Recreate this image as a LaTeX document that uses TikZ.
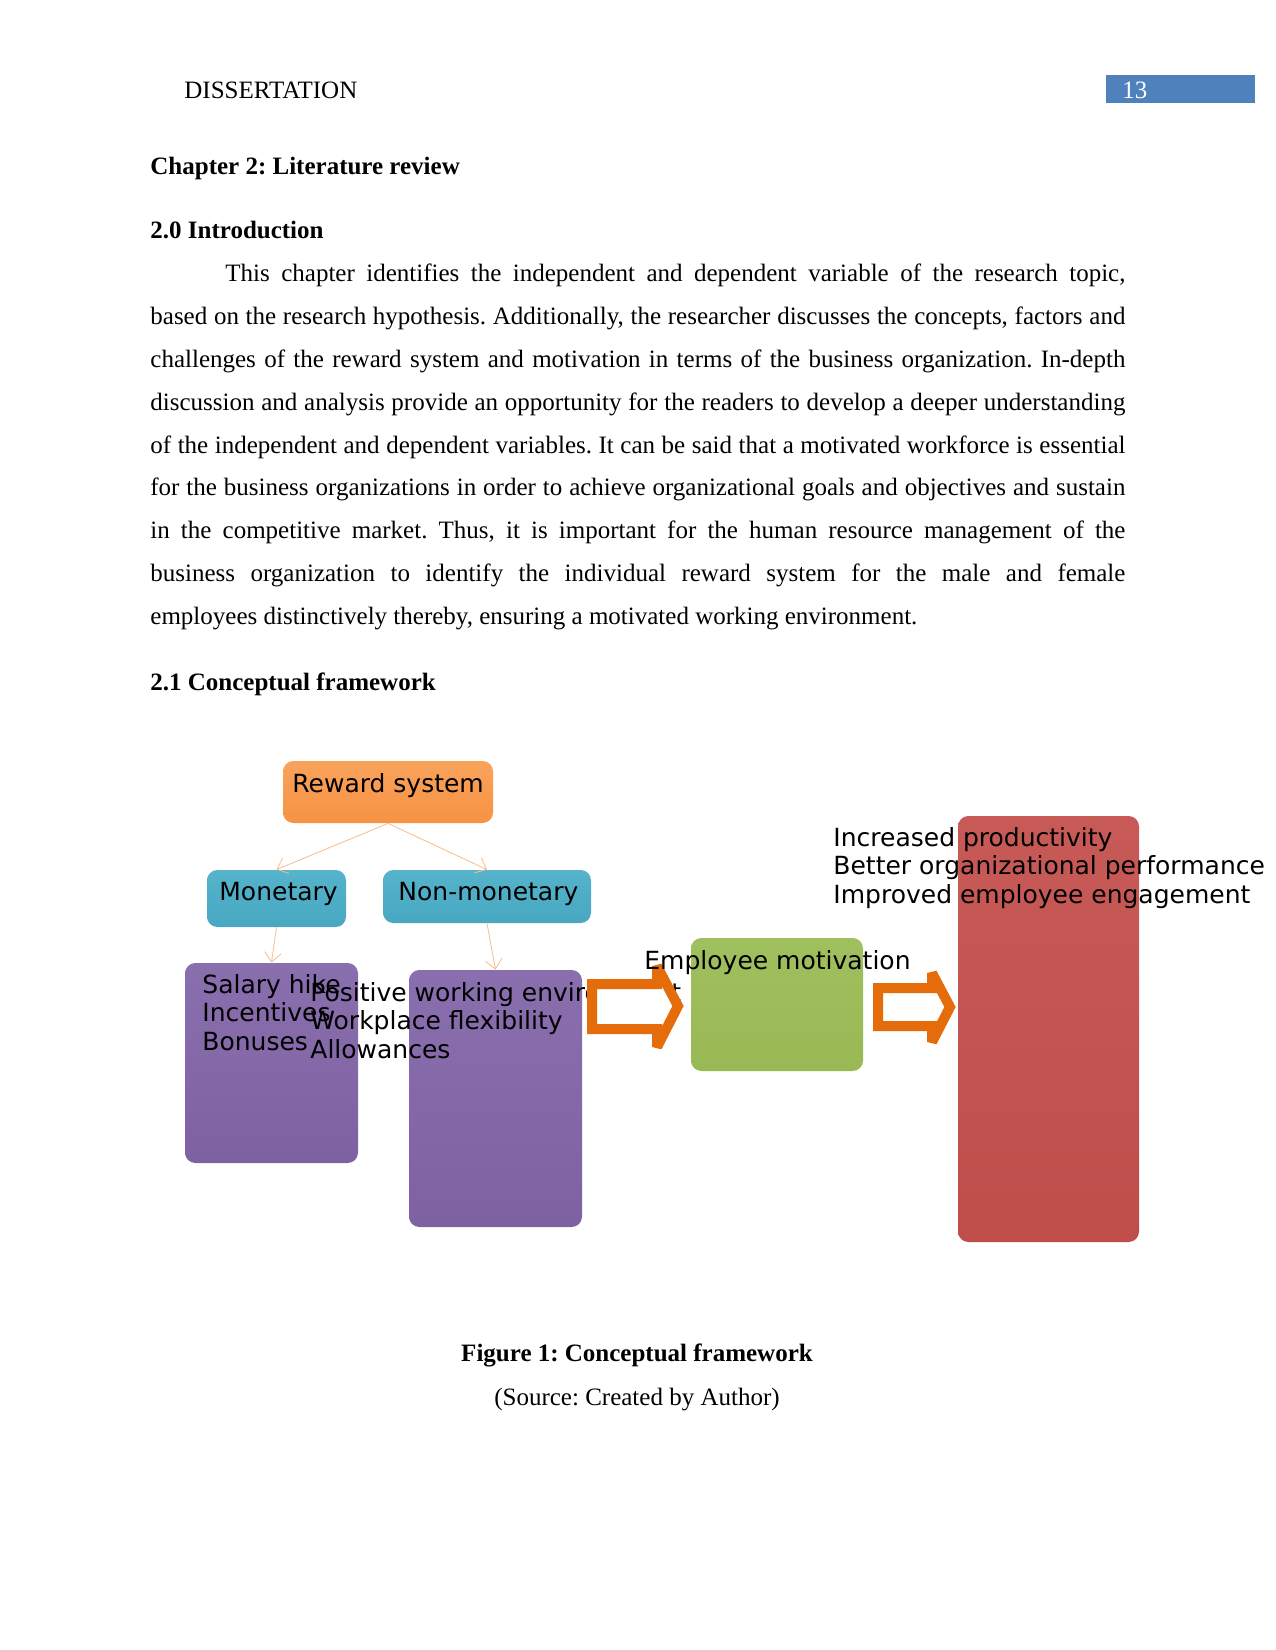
\documentclass[tikz,border=0pt]{standalone}
\usepackage{fontspec}
\setmainfont{Liberation Serif}
\newfontfamily\djv{DejaVu Sans}
\usetikzlibrary{arrows.meta}
\definecolor{hdrblue}{HTML}{4F81BD}
\definecolor{orgtop}{HTML}{F9A25C}
\definecolor{orgbot}{HTML}{F79343}
\definecolor{blutop}{HTML}{55B3CB}
\definecolor{blubot}{HTML}{48A8C2}
\definecolor{purtop}{HTML}{8A6FAE}
\definecolor{purbot}{HTML}{7E61A0}
\definecolor{grntop}{HTML}{A0BF5E}
\definecolor{grnbot}{HTML}{99B955}
\definecolor{redtop}{HTML}{C75A57}
\definecolor{redbot}{HTML}{BF4E4B}
\definecolor{arrorange}{HTML}{E46C0A}
\definecolor{linkorange}{HTML}{F8BE8E}
\begin{document}
\frenchspacing
\begin{tikzpicture}[x=0.48pt,y=-0.48pt,
  txt/.style={inner sep=0pt, anchor=base west, font=\fontsize{12pt}{14pt}\selectfont},
  bold/.style={txt, font=\fontsize{12pt}{14pt}\selectfont\bfseries},
  dtxt/.style={inner sep=0pt, anchor=base west, font=\djv\fontsize{12pt}{13.8pt}\selectfont},
  box/.style={rectangle, rounded corners=5pt, inner sep=0pt, draw=none},
  link/.style={draw=linkorange, line width=0.4pt, -{Straight Barb[length=4.5pt,width=8pt]}},
  blockarrow/.style={draw=arrorange, line width=4.8pt, fill=white, line join=miter, miter limit=3}
]
\useasboundingbox[fill=white] (0,0) rectangle (1275,1650);

% header
\node[txt] (hdr) at (184,99) {DISSERTATION};
\node[rectangle, fill=hdrblue, inner sep=0pt, anchor=north west, minimum width={149*0.48pt}, minimum height={28*0.48pt}] (pgbox) at (1106,75) {};
\node[txt, text=white] (pgnum) at (1122,99) {13};

% headings and paragraph
\node[bold] (chap) at (150,175) {Chapter 2: Literature review};
\node[bold] (intro) at (150,239) {2.0 Introduction};
\node[txt] (p1) at (225,282) {\makebox[432pt][s]{This chapter identifies the independent and dependent variable of the research topic,}};
\node[txt] (p2) at (150,324.8) {\makebox[468pt][s]{based on the research hypothesis. Additionally, the researcher discusses the concepts, factors and}};
\node[txt] (p3) at (150,367.6) {\makebox[468pt][s]{challenges of the reward system and motivation in terms of the business organization. In-depth}};
\node[txt] (p4) at (150,410.4) {\makebox[468pt][s]{discussion and analysis provide an opportunity for the readers to develop a deeper understanding}};
\node[txt] (p5) at (150,453.2) {\makebox[468pt][s]{of the independent and dependent variables. It can be said that a motivated workforce is essential}};
\node[txt] (p6) at (150,496) {\makebox[468pt][s]{for the business organizations in order to achieve organizational goals and objectives and sustain}};
\node[txt] (p7) at (150,538.8) {\makebox[468pt][s]{in the competitive market. Thus, it is important for the human resource management of the}};
\node[txt] (p8) at (150,581.6) {\makebox[468pt][s]{business organization to identify the individual reward system for the male and female}};
\node[txt] (p9) at (150,624.4) {employees distinctively thereby, ensuring a motivated working environment.};
\node[bold] (concept) at (150,690) {2.1 Conceptual framework};

% diagram boxes
\node[box, top color=orgtop, bottom color=orgbot, minimum width={210*0.48pt}, minimum height={62*0.48pt}] (rew) at (388,792) {};
\node[box, top color=blutop, bottom color=blubot, minimum width={139*0.48pt}, minimum height={57*0.48pt}] (mon) at (276.5,898.5) {};
\node[box, top color=blutop, bottom color=blubot, minimum width={208*0.48pt}, minimum height={53*0.48pt}] (non) at (487,896.5) {};
\node[box, top color=purtop, bottom color=purbot, minimum width={173*0.48pt}, minimum height={200*0.48pt}] (pl1) at (271.5,1063) {};
\node[box, top color=purtop, bottom color=purbot, minimum width={173*0.48pt}, minimum height={257*0.48pt}] (pl2) at (495.5,1098.5) {};

\node[dtxt] (rewt) at (292,792) {Reward system};
\node[dtxt] (mont) at (219,900) {Monetary};
\node[dtxt] (nont) at (398,900) {Non-monetary};

\draw[link] (rew.south) -- (mon.north);
\draw[link] (rew.south) -- (non.north);
\draw[link] (mon.south) -- (pl1.north);
\draw[link] (non.south) -- (pl2.north);

\node[dtxt] (pl1t) at (202,993) {\begin{tabular}[t]{@{}l@{}}Salary hike\\Incentives\\Bonuses\end{tabular}};
\node[dtxt] (pl2t) at (310,1001) {\begin{tabular}[t]{@{}l@{}}Positive working environment\\Workplace flexibility\\Allowances\end{tabular}};

% first block arrow
\draw[blockarrow] (592,984) -- (657,984) -- (657,966) -- (678,1006) -- (657,1047) -- (657,1029) -- (592,1029) -- cycle;

\node[box, top color=grntop, bottom color=grnbot, minimum width={172*0.48pt}, minimum height={133*0.48pt}] (grn) at (777,1004.5) {};
\node[dtxt] (grnt) at (644,969) {Employee motivation};

% second block arrow
\draw[blockarrow] (878,988) -- (932,988) -- (932,973) -- (950,1007) -- (932,1042) -- (932,1026) -- (878,1026) -- cycle;

\node[box, top color=redtop, bottom color=redbot, minimum width={181*0.48pt}, minimum height={426*0.48pt}] (red) at (1048.5,1029) {};
\node[dtxt] (redt) at (833,846) {\begin{tabular}[t]{@{}l@{}}Increased productivity\\Better organizational performance\\Improved employee engagement\end{tabular}};

% caption
\node[bold, anchor=base] (cap) at (637,1361) {Figure 1: Conceptual framework};
\node[txt, anchor=base] (src) at (637,1405) {(Source: Created by Author)};
\end{tikzpicture}
\end{document}
